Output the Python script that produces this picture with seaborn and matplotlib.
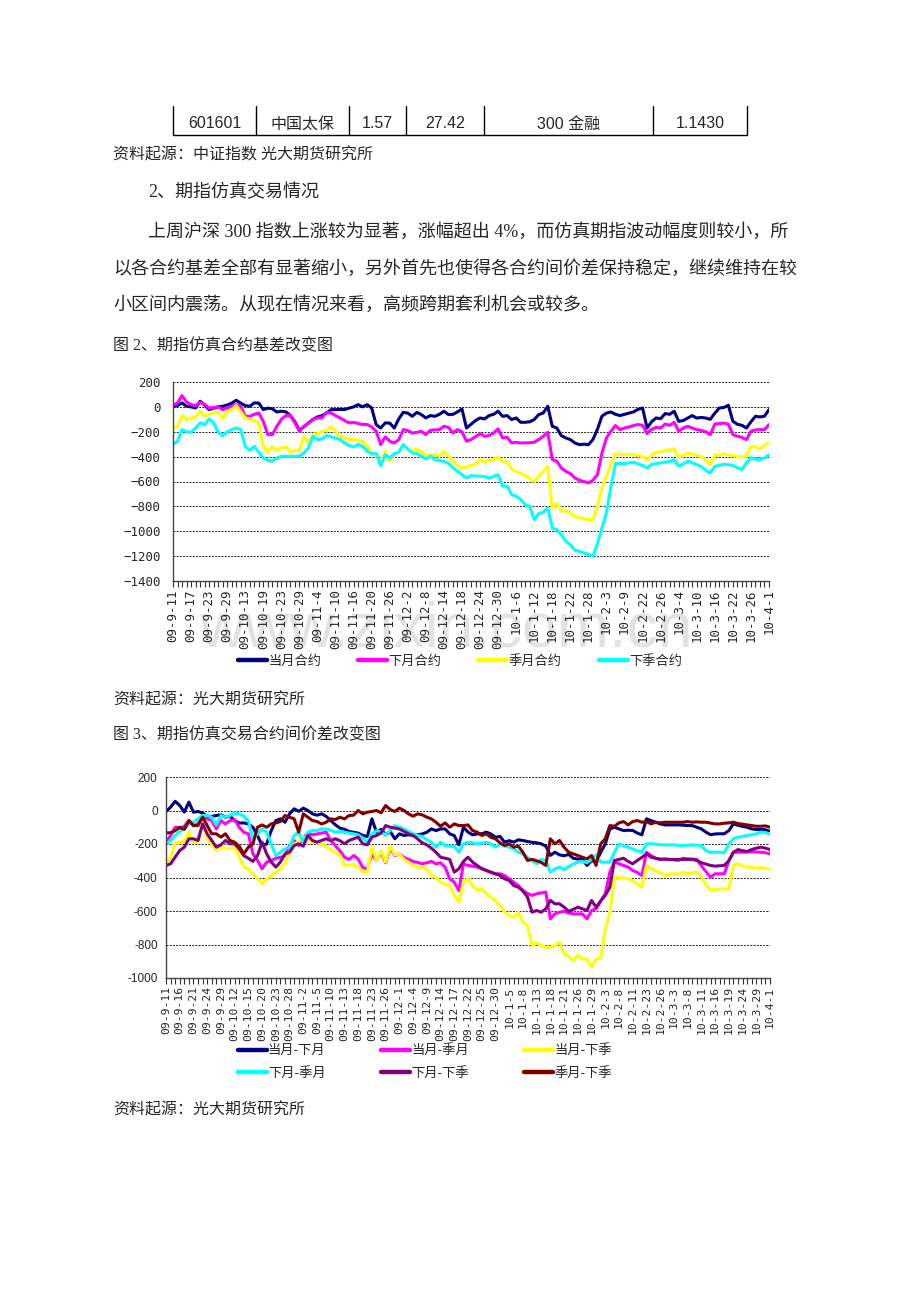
import pandas as pd
import seaborn as sns
import matplotlib
matplotlib.use("Agg")
import matplotlib.pyplot as plt
from matplotlib.lines import Line2D
from matplotlib.font_manager import FontProperties

# ---- data: table row ----
table_cells = ["601601", "中国太保", "1.57", "27.42", "300 金融", "1.1430"]

# ---- chart 1: 基差 (4 series, 133 trading days) ----
c1_names = ["当月合约", "下月合约", "季月合约", "下季合约"]
c1_dangyue = [
    5, 10, 32, 5, 0, -9, 45, 15, -22, -10,
    0, 5, 15, 30, 53, 30, 10, 5, 32, 30,
    -22, -10, -15, -41, -35, -40, -70, -120, -190, -160,
    -130, -100, -81, -70, -50, -22, -22, -20, -22, -10,
    0, 18, 0, 18, -9, -143, -170, -129, -130, -170,
    -97, -44, -50, -76, -44, -62, -89, -70, -76, -60,
    -35, -62, -60, -40, -17, -170, -140, -110, -89, -97,
    -70, -60, -35, -76, -70, -102, -89, -124, -124, -120,
    -102, -62, -49, 5, -156, -170, -231, -250, -263, -290,
    -304, -300, -304, -263, -180, -75, -50, -41, -60, -70,
    -60, -50, -40, -20, -9, -170, -120, -89, -95, -54,
    -60, -35, -116, -110, -90, -70, -90, -85, -90, -100,
    -50, -9, -5, 13, -116, -140, -148, -170, -120, -76,
    -81, -75, -22]
c1_xiayue = [
    10, 32, 90, 40, 18, 10, 37, 20, -9, -5,
    0, -22, -9, 5, 18, 5, -76, -76, -60, -49,
    -116, -223, -223, -156, -100, -70, -70, -129, -196, -156,
    -130, -102, -89, -89, -44, -49, -70, -89, -110, -129,
    -124, -134, -142, -142, -161, -196, -303, -241, -276, -290,
    -263, -183, -190, -210, -205, -196, -223, -188, -185, -183,
    -156, -165, -210, -183, -200, -276, -263, -240, -215, -236,
    -231, -210, -177, -250, -245, -290, -285, -290, -290, -288,
    -284, -263, -236, -204, -424, -437, -491, -518, -536, -571,
    -590, -600, -611, -590, -545, -371, -250, -196, -150, -183,
    -170, -161, -150, -142, -148, -215, -180, -164, -170, -138,
    -148, -124, -196, -170, -156, -170, -183, -190, -200, -223,
    -138, -135, -130, -140, -223, -236, -245, -263, -196, -185,
    -183, -183, -142]
c1_jiyue = [
    -169, -156, -70, -102, -90, -81, -35, -76, -60, -49,
    -44, -97, -35, -22, 10, -40, -89, -97, -110, -129,
    -317, -365, -317, -349, -330, -320, -365, -349, -349, -236,
    -290, -223, -215, -200, -188, -161, -196, -236, -250, -263,
    -263, -270, -276, -317, -370, -370, -472, -357, -437, -376,
    -365, -303, -338, -357, -338, -360, -397, -384, -384, -397,
    -357, -397, -437, -470, -491, -483, -470, -464, -424, -445,
    -430, -424, -403, -437, -445, -499, -520, -531, -553, -575,
    -598, -558, -518, -478, -813, -778, -839, -835, -853, -880,
    -890, -900, -906, -906, -800, -652, -558, -460, -376, -384,
    -384, -380, -384, -390, -400, -424, -385, -365, -360, -349,
    -345, -338, -403, -390, -370, -380, -390, -400, -430, -464,
    -384, -390, -380, -385, -392, -400, -403, -395, -317, -320,
    -338, -310, -284]
c1_xiaji = [
    -303, -276, -183, -200, -204, -170, -129, -145, -97, -130,
    -204, -231, -200, -183, -169, -183, -317, -349, -317, -365,
    -410, -429, -437, -410, -397, -397, -397, -397, -397, -370,
    -330, -236, -263, -257, -231, -241, -250, -263, -290, -310,
    -322, -303, -317, -357, -376, -376, -472, -384, -410, -376,
    -365, -303, -340, -370, -376, -395, -419, -397, -424, -430,
    -437, -456, -490, -518, -545, -571, -553, -555, -558, -560,
    -571, -560, -545, -638, -638, -705, -719, -745, -786, -800,
    -906, -858, -847, -813, -974, -987, -1027, -1080, -1107, -1153,
    -1160, -1175, -1185, -1201, -1100, -974, -850, -638, -456, -456,
    -456, -450, -445, -460, -470, -491, -462, -456, -450, -445,
    -440, -424, -478, -460, -437, -450, -465, -480, -510, -531,
    -478, -470, -462, -465, -470, -490, -504, -450, -410, -420,
    -424, -410, -384]
c1_labels = ["09-9-11", "09-9-17", "09-9-23", "09-9-29", "09-10-13", "09-10-19",
             "09-10-23", "09-10-29", "09-11-4", "09-11-10", "09-11-16", "09-11-20",
             "09-11-26", "09-12-2", "09-12-8", "09-12-14", "09-12-18", "09-12-24",
             "09-12-30", "10-1-6", "10-1-12", "10-1-18", "10-1-22", "10-1-28",
             "10-2-3", "10-2-9", "10-2-22", "10-2-26", "10-3-4", "10-3-10",
             "10-3-16", "10-3-22", "10-3-26", "10-4-1"]

# ---- chart 2: 合约间价差 (6 series) ----
c2_names = ["当月-下月", "当月-季月", "当月-下季", "下月-季月", "下月-下季", "季月-下季"]
c2_d_x = [
    -6, 20, 55, 30, -10, 50, -10, -6, -15, -35,
    -35, -30, -26, -40, -34, -60, -75, -74, -80, -100,
    -150, -209, -200, -120, -60, -50, -70, -20, 10, -5,
    14, 0, -20, -28, -20, -35, -60, -85, -105, -112,
    -125, -130, -135, -149, -155, -50, -130, -113, -145, -125,
    -169, -139, -149, -145, -149, -145, -140, -130, -110, -120,
    -110, -110, -139, -150, -205, -100, -129, -145, -140, -139,
    -129, -140, -160, -155, -189, -180, -189, -175, -179, -185,
    -190, -193, -199, -213, -268, -249, -265, -270, -262, -285,
    -290, -292, -328, -299, -308, -250, -200, -110, -100, -110,
    -120, -118, -119, -135, -145, -50, -60, -70, -80, -86,
    -86, -86, -86, -88, -90, -90, -100, -110, -129, -145,
    -140, -139, -139, -120, -80, -88, -95, -100, -110, -113,
    -113, -115, -125]
c2_d_j = [
    -189, -149, -100, -105, -94, -60, -90, -80, -30, -50,
    -60, -110, -60, -80, -60, -55, -100, -130, -139, -259,
    -298, -348, -308, -300, -285, -280, -270, -209, -179, -209,
    -160, -139, -145, -140, -135, -129, -179, -209, -240, -279,
    -292, -269, -290, -340, -350, -259, -298, -249, -312, -225,
    -269, -259, -280, -292, -304, -310, -318, -312, -304, -318,
    -312, -338, -408, -428, -478, -318, -328, -332, -338, -345,
    -358, -370, -378, -378, -388, -408, -428, -448, -478, -495,
    -507, -497, -492, -487, -647, -617, -607, -602, -612, -617,
    -617, -617, -647, -597, -587, -540, -497, -368, -308, -318,
    -328, -338, -358, -370, -388, -249, -269, -285, -290, -292,
    -292, -295, -298, -285, -289, -290, -292, -330, -365, -398,
    -378, -378, -378, -300, -249, -249, -249, -249, -245, -247,
    -249, -252, -259]
c2_d_xj = [
    -318, -279, -199, -189, -185, -129, -189, -185, -90, -169,
    -200, -239, -219, -225, -229, -219, -279, -338, -348, -378,
    -408, -438, -408, -390, -368, -348, -318, -249, -199, -189,
    -159, -179, -189, -193, -199, -219, -233, -250, -265, -328,
    -324, -324, -338, -368, -368, -219, -298, -239, -308, -213,
    -265, -259, -292, -308, -328, -338, -338, -350, -388, -400,
    -428, -440, -448, -507, -547, -428, -408, -448, -472, -468,
    -497, -517, -537, -567, -607, -627, -637, -607, -667, -687,
    -806, -790, -806, -816, -816, -806, -786, -856, -870, -896,
    -862, -886, -886, -935, -886, -880, -707, -607, -398, -398,
    -404, -408, -420, -438, -458, -328, -348, -360, -368, -388,
    -378, -378, -378, -368, -378, -372, -368, -398, -440, -478,
    -470, -468, -468, -468, -328, -318, -330, -338, -338, -344,
    -340, -345, -352]
c2_x_j = [
    -199, -179, -149, -125, -110, -80, -70, -50, -30, -30,
    -40, -86, -30, -40, -30, -14, -20, -34, -60, -169,
    -140, -110, -130, -200, -269, -249, -229, -219, -149, -129,
    -189, -129, -120, -120, -110, -110, -118, -129, -125, -130,
    -135, -139, -145, -165, -189, -140, -120, -129, -145, -120,
    -90, -100, -110, -125, -139, -149, -155, -175, -190, -219,
    -189, -209, -213, -213, -249, -199, -189, -193, -199, -195,
    -189, -199, -219, -199, -213, -219, -230, -249, -260, -280,
    -298, -318, -292, -298, -368, -348, -338, -352, -334, -320,
    -308, -304, -312, -292, -265, -308, -308, -308, -249, -199,
    -210, -219, -230, -240, -249, -199, -199, -200, -205, -205,
    -205, -205, -208, -209, -207, -205, -207, -209, -240, -249,
    -249, -249, -253, -200, -169, -159, -155, -149, -145, -139,
    -129, -132, -139]
c2_x_xj = [
    -328, -318, -279, -239, -219, -169, -169, -179, -80, -139,
    -179, -219, -205, -179, -199, -199, -230, -270, -285, -304,
    -269, -189, -259, -308, -338, -308, -259, -249, -209, -199,
    -213, -149, -179, -189, -179, -169, -179, -169, -180, -199,
    -179, -169, -159, -199, -205, -159, -149, -135, -90, -100,
    -105, -110, -125, -139, -149, -170, -193, -205, -225, -249,
    -279, -285, -292, -368, -348, -304, -279, -308, -328, -348,
    -358, -368, -378, -388, -408, -418, -448, -458, -480, -517,
    -607, -597, -607, -587, -537, -557, -557, -577, -602, -590,
    -577, -587, -597, -537, -577, -540, -507, -458, -298, -292,
    -285, -304, -318, -298, -280, -259, -279, -285, -292, -289,
    -292, -292, -292, -292, -292, -292, -298, -312, -320, -328,
    -332, -330, -328, -300, -249, -233, -240, -245, -233, -225,
    -219, -225, -233]
c2_j_xj = [
    -133, -133, -120, -100, -113, -60, -90, -90, -40, -90,
    -139, -139, -159, -139, -179, -189, -213, -259, -219, -199,
    -100, -86, -100, -80, -74, -66, -30, -40, -50, -129,
    -20, -40, -60, -66, -80, -70, -50, -54, -40, -50,
    -30, -28, 0, -20, -10, -6, 0, -14, 30, 6,
    -6, 14, 0, -20, -34, -20, -26, -40, -50, -70,
    -94, -74, -100, -80, -90, -90, -86, -120, -129, -149,
    -139, -160, -169, -193, -209, -199, -219, -213, -249, -298,
    -292, -300, -310, -328, -169, -199, -179, -219, -249, -259,
    -269, -279, -289, -269, -328, -199, -169, -90, -94, -74,
    -66, -86, -66, -60, -70, -66, -80, -70, -74, -70,
    -70, -70, -70, -70, -66, -70, -68, -70, -70, -75,
    -80, -80, -76, -74, -70, -78, -82, -86, -90, -94,
    -94, -92, -100]
c2_labels = ["09-9-11", "09-9-16", "09-9-21", "09-9-24", "09-9-29", "09-10-12",
             "09-10-15", "09-10-20", "09-10-23", "09-10-28", "09-11-2", "09-11-5",
             "09-11-10", "09-11-13", "09-11-18", "09-11-23", "09-11-26", "09-12-1",
             "09-12-4", "09-12-9", "09-12-14", "09-12-17", "09-12-22", "09-12-25",
             "09-12-30", "10-1-5", "10-1-8", "10-1-13", "10-1-18", "10-1-21",
             "10-1-26", "10-1-29", "10-2-3", "10-2-8", "10-2-11", "10-2-23",
             "10-2-26", "10-3-3", "10-3-8", "10-3-11", "10-3-16", "10-3-19",
             "10-3-24", "10-3-29", "10-4-1"]

sns.set_style("white")
plt.rcParams["font.family"] = ["Noto Sans CJK SC", "DejaVu Sans"]
plt.rcParams["axes.unicode_minus"] = False

W, H = 920, 1302
fig = plt.figure(figsize=(W / 100, H / 100), dpi=100)

SERIF = ["Liberation Serif", "Noto Sans CJK SC"]
SANS = ["Liberation Sans", "Noto Sans CJK SC"]


def fx(x):
    return x / W


def fy(y):
    return 1 - y / H


def line(x0, y0, x1, y1, **kw):
    fig.add_artist(Line2D([fx(x0), fx(x1)], [fy(y0), fy(y1)],
                          transform=fig.transFigure, **kw))


# ---- table row ----
cols = [173, 256, 349, 406, 484, 653, 747]
for c in cols:
    line(c, 106, c, 135, color="black", lw=1)
line(cols[0], 135, cols[-1], 135, color="black", lw=1)
for i, t in enumerate(table_cells):
    fig.text(fx((cols[i] + cols[i + 1]) / 2), fy(124), t, ha="center",
             va="center", fontsize=11.5, family=SANS)

# ---- body text ----
fig.text(fx(113), fy(155), "资料起源：中证指数 光大期货研究所", fontsize=11.5,
         va="center", family=SERIF)
fig.text(fx(148), fy(192), "2、期指仿真交易情况", fontsize=13, va="center", family=SERIF)
fig.text(fx(148), fy(232), "上周沪深 300 指数上涨较为显著，涨幅超出 4%，而仿真期指波动幅度则较小，所",
         fontsize=13, va="center", family=SERIF)
fig.text(fx(113), fy(269), "以各合约基差全部有显著缩小，另外首先也使得各合约间价差保持稳定，继续维持在较",
         fontsize=13, va="center", family=SERIF)
fig.text(fx(113), fy(305), "小区间内震荡。从现在情况来看，高频跨期套利机会或较多。",
         fontsize=13, va="center", family=SERIF)
fig.text(fx(113), fy(346), "图 2、期指仿真合约基差改变图", fontsize=11.5, va="center", family=SERIF)
fig.text(fx(113), fy(700), "资料起源：光大期货研究所", fontsize=11.5, va="center", family=SERIF)
fig.text(fx(113), fy(735), "图 3、期指仿真交易合约间价差改变图", fontsize=11.5, va="center", family=SERIF)
fig.text(fx(113), fy(1110), "资料起源：光大期货研究所", fontsize=11.5, va="center", family=SERIF)

# watermark over the first chart's date labels
fig.text(fx(446), fy(647), "www.zixin.com.cn", fontsize=45, color="#e2e2e2",
         ha="center", va="baseline", family="Liberation Sans", zorder=-1)


def chart(box, names, series, colors, labels, step, ylo, yhi, minus, yfont, yfs, ypad, xfs):
    left, top, right, bottom = box
    ax = fig.add_axes([fx(left), fy(bottom), fx(right - left), (bottom - top) / H])
    df = pd.DataFrame(dict(zip(names, series)))
    df["idx"] = range(len(df))
    long = df.melt(id_vars="idx", var_name="series", value_name="value")
    sns.lineplot(data=long, x="idx", y="value", hue="series", hue_order=names,
                 palette=colors, linewidth=2.2, errorbar=None, ax=ax)
    handles, labs = ax.get_legend_handles_labels()
    ax.get_legend().remove()

    n = len(df)
    ax.set_xlim(0, n - 1)
    ax.set_ylim(ylo, yhi)
    yt = list(range(ylo, yhi + 1, 200))
    ax.set_yticks(yt)
    ax.set_yticklabels([str(v).replace("-", minus) for v in yt], family=yfont, fontsize=yfs)
    ax.set_xticks(range(0, n, step))
    ax.set_xticklabels(labels, rotation=90, family="DejaVu Sans Mono", fontsize=xfs)
    ax.set_xticks(range(n), minor=True)
    ax.tick_params(axis="x", which="both", bottom=True, direction="out",
                   length=4, width=0.8, color="#333333", pad=2)
    ax.tick_params(axis="y", length=0, pad=ypad)
    ax.set_xlabel("")
    ax.set_ylabel("")
    ax.grid(axis="y", linestyle=(0, (2, 1.3)), color="#222222", lw=0.7)
    ax.grid(axis="x", visible=False)
    for s in ["top", "right"]:
        ax.spines[s].set_visible(False)
    for s in ["left", "bottom"]:
        ax.spines[s].set_color("#444444")
        ax.spines[s].set_linewidth(1)
    for h in handles:
        h.set_linewidth(3.2)
    return ax, handles, labs


c1_colors = ["#000080", "#FF00FF", "#FFFF00", "#00FFFF"]
ax1, h1, l1 = chart((173, 382, 769, 581), c1_names,
                    [c1_dangyue, c1_xiayue, c1_jiyue, c1_xiaji], c1_colors,
                    c1_labels, 4, -1400, 200, "\u2212", "DejaVu Sans Mono", 9, 9, 9)
fig.legend(h1, l1, loc="center", bbox_to_anchor=(fx(460), fy(661)), ncol=4,
           frameon=False, handlelength=2.2, handletextpad=0.1, columnspacing=2.8,
           prop=FontProperties(family=["Noto Sans CJK SC", "DejaVu Sans"], size=9.5))

c2_colors = ["#000080", "#FF00FF", "#FFFF00", "#00FFFF", "#800080", "#800000"]
ax2, h2, l2 = chart((166, 777, 770, 978), c2_names,
                    [c2_d_x, c2_d_j, c2_d_xj, c2_x_j, c2_x_xj, c2_j_xj], c2_colors,
                    c2_labels, 3, -1000, 200, "-", "Liberation Sans", 8.5, 6, 8.2)
order = [0, 3, 1, 4, 2, 5]
fig.legend([h2[i] for i in order], [l2[i] for i in order], loc="center",
           bbox_to_anchor=(fx(425), fy(1062)), ncol=3, frameon=False,
           handlelength=2.2, handletextpad=0.1, columnspacing=4.2, labelspacing=0.7,
           prop=FontProperties(family=["Noto Sans CJK SC", "DejaVu Sans"], size=9.5))

fig.savefig("out.png", dpi=100)
